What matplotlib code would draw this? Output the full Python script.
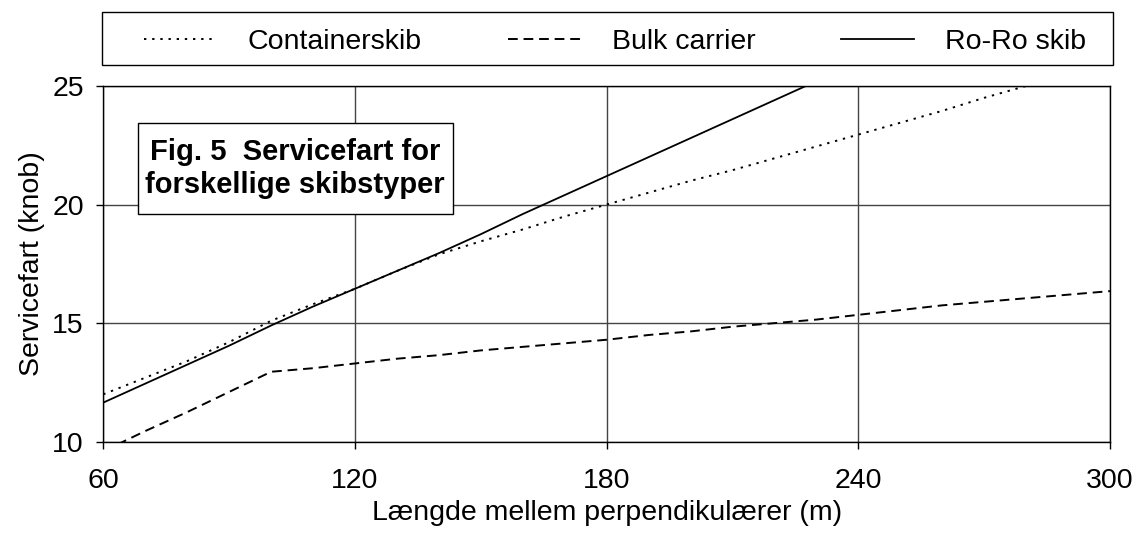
import numpy as np
import matplotlib
matplotlib.use("Agg")
import matplotlib.pyplot as plt
from matplotlib.patches import Rectangle

plt.rcParams['font.family'] = ['Liberation Sans', 'DejaVu Sans']

# skibslaengde (m) og servicefart (knob), aflaest fra figuren
laengde = [60, 70, 80, 90, 100, 110, 120, 130, 140, 150, 160, 170, 180, 190,
           200, 210, 220, 230, 240, 250, 260, 270, 280, 290, 300]
container = [12.0, 12.7, 13.4, 14.2, 15.1, 15.8, 16.45, 17.2, 17.9, 18.45, 18.95,
             19.5, 20.0, 20.5, 21.0, 21.45, 21.95, 22.45, 22.95, 23.45, 23.95,
             24.5, 25.0, 25.5, 26.0]
bulk = [9.6, 10.45, 11.25, 12.1, 12.95, 13.1, 13.3, 13.5, 13.65, 13.85, 14.0,
        14.15, 14.3, 14.5, 14.65, 14.85, 15.0, 15.15, 15.35, 15.55, 15.75,
        15.9, 16.05, 16.2, 16.35]
roro = [11.65, 12.45, 13.25, 14.05, 14.9, 15.7, 16.45, 17.2, 17.95, 18.75, 19.6,
        20.4, 21.2, 22.0, 22.8, 23.6, 24.4, 25.2, 26.0, 26.8, 27.6, 28.4,
        29.2, 30.0, 30.8]

x_ticks = [60, 120, 180, 240, 300]
y_ticks = [10, 15, 20, 25]

fs = 20.5
W, H = 1139, 534

fig = plt.figure(figsize=(W / 100, H / 100), dpi=100)
ax = fig.add_axes([0.0907, 0.1728, 0.8838, 0.6662])

lw = 1.4
ax.plot(laengde, container, color='black', lw=lw, dashes=(1.2, 3.0),
        label='Containerskib')
ax.plot(laengde, bulk, color='black', lw=lw, dashes=(5.0, 3.0),
        label='Bulk carrier')
ax.plot(laengde, roro, color='black', lw=1.3, label='Ro-Ro skib')

ax.set_xlim(60, 300)
ax.set_ylim(10, 25)
ax.set_xticks(x_ticks)
ax.set_yticks(y_ticks)
ax.grid(True, color='#444444', lw=1.0)
ax.set_axisbelow(True)
for s in ax.spines.values():
    s.set_color('black')
    s.set_linewidth(1.0)
ax.tick_params(direction='out', length=5, width=1.0, labelsize=fs, pad=9)
ax.tick_params(axis='x', pad=14)

ax.set_xlabel('Længde mellem perpendikulærer (m)', fontsize=fs, labelpad=4)
ax.set_ylabel('Servicefart (knob)', fontsize=fs, labelpad=5)

# tekstboks med figurtitel
ax.add_patch(Rectangle((0.0342, 0.639), 0.3128, 0.258, transform=ax.transAxes,
                       facecolor='white', edgecolor='black', lw=1.0, zorder=5))
ax.text(0.1907, 0.7687, 'Fig. 5  Servicefart for\nforskellige skibstyper',
        transform=ax.transAxes, ha='center', va='center', fontsize=21,
        fontweight='bold', linespacing=1.25, zorder=6)

# ramme om legenden tegnes for sig
fig.patches.append(Rectangle((101.7 / W, 1 - 65 / H), 1011 / W, 53 / H,
                             transform=fig.transFigure, facecolor='white',
                             edgecolor='black', lw=1.0))
leg = fig.legend(loc='lower left',
                 bbox_to_anchor=(134 / W, 1 - 65 / H, 962 / W, 53 / H),
                 ncol=3, mode='expand', fontsize=fs, frameon=False,
                 handlelength=2.55, handletextpad=1.1, borderaxespad=0,
                 borderpad=0.35)

fig.savefig('out.png', dpi=100)
